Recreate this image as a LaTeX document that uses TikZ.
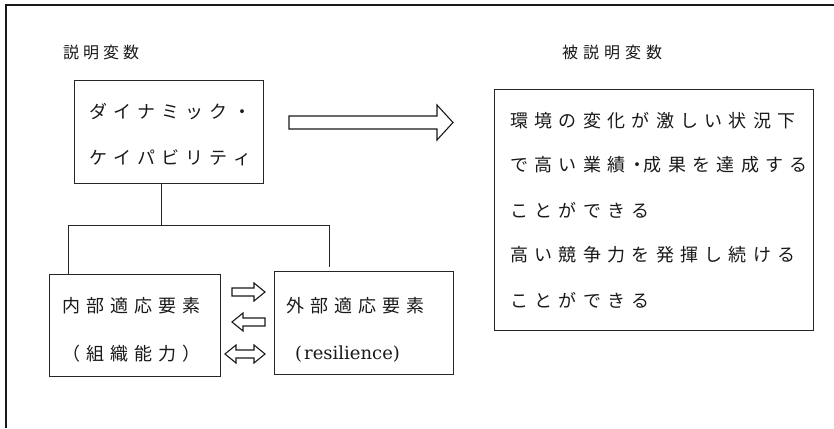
\documentclass[tikz,border=0pt]{standalone}
\usepackage{fontspec}
\setmainfont{Liberation Serif}
\newfontfamily\jpN{Noto Sans CJK JP}
\newfontfamily\lat{DejaVu Serif}
\makeatletter
\newcommand\spc[2]{\def\spc@w{#1}\@tfor\spc@c:=#2\do{\makebox[\spc@w][l]{\spc@c}}}
\makeatother
\tikzset{
  box/.style={draw=black!85, line width=0.9pt, rectangle, inner sep=0pt},
  lbl/.style={inner sep=0pt, anchor=west, text=black!90, font=\jpN\fontsize{18pt}{18pt}\selectfont},
  conn/.style={draw=black!85, line width=0.9pt},
  hollow/.style={draw=black!90, line width=1.1pt, fill=white, line join=miter}
}
\begin{document}
\begin{tikzpicture}[x=1pt,y=-1pt]
\useasboundingbox (0,0) rectangle (834,428);
% outer frame (cropped)
\draw[line width=1.6pt, black!90] (834,5) -- (6,5) -- (6,428);

% headings
\node[lbl, font=\jpN\fontsize{16pt}{16pt}\selectfont] (h1) at (63,52) {\spc{20pt}{説明変数}};
\node[lbl, font=\jpN\fontsize{16pt}{16pt}\selectfont] (h2) at (562,52) {\spc{21pt}{被説明変数}};

% boxes
\node[box, minimum width=189pt, minimum height=103pt] (dc) at (168.5,131.5) {};
\node[box, minimum width=319pt, minimum height=241pt] (res) at (653.5,209.5) {};
\node[box, minimum width=171pt, minimum height=102pt] (inn) at (134.5,325) {};
\node[box, minimum width=179pt, minimum height=103pt] (out) at (363.5,322.5) {};

% box texts
\node[lbl] (t1) at (89,112) {\spc{24pt}{ダイナミック・}};
\node[lbl] (t2) at (89,158) {\spc{24pt}{ケイパビリティ}};

\node[lbl] (r1) at (510,121) {\spc{24.3pt}{環境の変化が激しい状況下}};
\node[lbl] (r2) at (510,165) {\spc{24.3pt}{で高い業績}\makebox[12.2pt][c]{・}\spc{24.3pt}{成果を達成する}};
\node[lbl] (r3) at (510,210) {\spc{24.3pt}{ことができる}};
\node[lbl] (r4) at (510,255) {\spc{24.3pt}{高い競争力を発揮し続ける}};
\node[lbl] (r5) at (510,300) {\spc{24.3pt}{ことができる}};

\node[lbl] (i1) at (62,306) {\spc{24pt}{内部適応要素}};
\node[lbl] (i2) at (62,354) {\spc{24pt}{（組織能力）}};
\node[lbl] (o1) at (286,306) {\spc{24pt}{外部適応要素}};
\node[lbl, font=\lat\fontsize{18pt}{18pt}\selectfont] (o2) at (295,354) {(\hspace{2pt}resilience)};

% tree connectors
\coordinate (jC) at (161,225);
\coordinate (jL) at (68,225);
\coordinate (jR) at (329,225);
\coordinate (jRend) at (329,267);
\draw[conn] (dc.south -| jC) -- (jC);
\draw[conn] (jL) -- (jR);
\draw[conn] (jL) -- (jL |- inn.north);
\draw[conn] (jR) -- (jRend);

% big hollow arrow
\draw[hollow] (289,116) -- (437,116) -- (437,105) -- (453,122.5) -- (437,140) -- (437,129) -- (289,129) -- cycle;

% small hollow arrows
\draw[hollow] (232,288) -- (254,288) -- (254,283) -- (265,292) -- (254,301) -- (254,296) -- (232,296) -- cycle;
\draw[hollow] (265,318) -- (243,318) -- (243,313) -- (232,322) -- (243,331) -- (243,326) -- (265,326) -- cycle;
\draw[hollow] (225,354) -- (236,345) -- (236,350) -- (254,350) -- (254,345) -- (265,354) -- (254,363) -- (254,358) -- (236,358) -- (236,363) -- cycle;
\end{tikzpicture}
\end{document}
